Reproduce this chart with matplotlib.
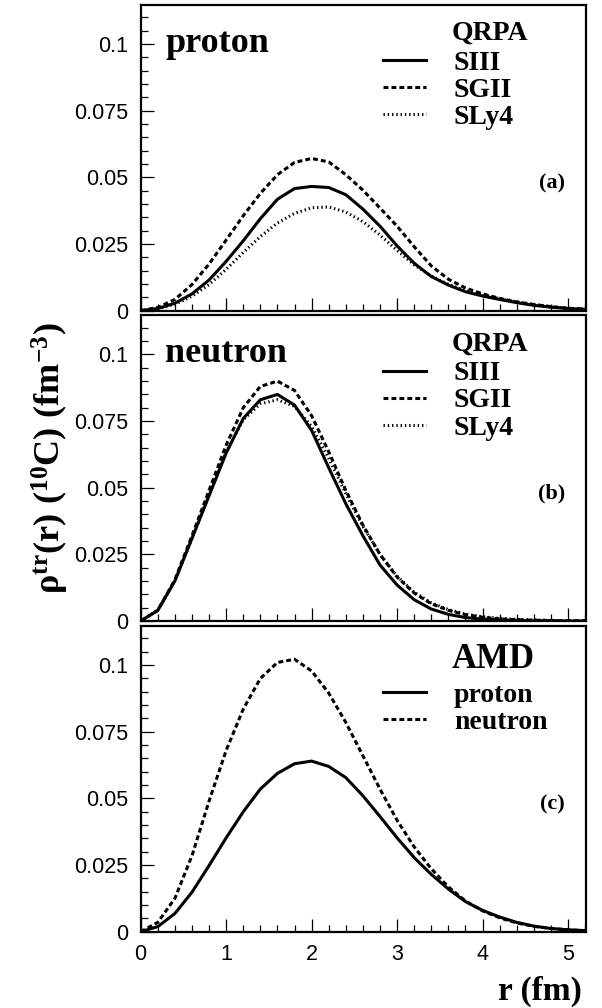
import numpy as np
import matplotlib
matplotlib.use('Agg')
import matplotlib.pyplot as plt
from matplotlib.ticker import MultipleLocator, FixedLocator

plt.rcParams['font.family'] = ['Liberation Sans', 'DejaVu Sans']
plt.rcParams['mathtext.fontset'] = 'custom'
plt.rcParams['mathtext.rm'] = 'Liberation Serif:bold'
plt.rcParams['mathtext.bf'] = 'Liberation Serif:bold'
plt.rcParams['mathtext.it'] = 'Liberation Serif:bold'

# radius grid (fm)
r = [0.0, 0.2, 0.4, 0.6, 0.8, 1.0, 1.2, 1.4, 1.6, 1.8, 2.0, 2.2, 2.4, 2.6,
     2.8, 3.0, 3.2, 3.4, 3.6, 3.8, 4.0, 4.2, 4.4, 4.6, 4.8, 5.0, 5.2]

# (a) proton, QRPA
p_siii = [0, 0.0008, 0.0028, 0.0063, 0.0115, 0.0185, 0.0262, 0.0345, 0.0418, 0.0458,
          0.0466, 0.0462, 0.0435, 0.0381, 0.0317, 0.0243, 0.0178, 0.0128, 0.0096,
          0.0071, 0.0055, 0.0042, 0.0030, 0.0020, 0.0013, 0.0008, 0.0005]
p_sgii = [0, 0.0012, 0.0042, 0.0098, 0.0175, 0.0265, 0.0356, 0.0440, 0.0510, 0.0556,
          0.0571, 0.0558, 0.0510, 0.0452, 0.0385, 0.0317, 0.0240, 0.0168, 0.0118,
          0.0085, 0.0063, 0.0046, 0.0033, 0.0023, 0.0015, 0.0009, 0.0006]
p_sly4 = [0, 0.0007, 0.0024, 0.0054, 0.0098, 0.0155, 0.0218, 0.0278, 0.0329, 0.0365,
          0.0386, 0.0389, 0.0370, 0.0334, 0.0284, 0.0226, 0.0172, 0.0130, 0.0099,
          0.0076, 0.0059, 0.0045, 0.0033, 0.0023, 0.0015, 0.0009, 0.0006]

# (b) neutron, QRPA
n_siii = [0, 0.0040, 0.0150, 0.0310, 0.0470, 0.0630, 0.0760, 0.0830, 0.0850, 0.0810,
          0.0715, 0.0575, 0.0440, 0.0320, 0.0210, 0.0135, 0.0080, 0.0045, 0.0025,
          0.0013, 0.0007, 0.0004, 0.0002, 0.0001, 0.0001, 0.0, 0.0]
n_sgii = [0, 0.0040, 0.0155, 0.0320, 0.0490, 0.0660, 0.0800, 0.0880, 0.0900, 0.0865,
          0.0770, 0.0635, 0.0490, 0.0360, 0.0250, 0.0165, 0.0105, 0.0065, 0.0040,
          0.0024, 0.0014, 0.0008, 0.0005, 0.0003, 0.0002, 0.0001, 0.0001]
n_sly4 = [0, 0.0040, 0.0152, 0.0310, 0.0475, 0.0635, 0.0755, 0.0815, 0.0830, 0.0805,
          0.0730, 0.0610, 0.0478, 0.0355, 0.0250, 0.0168, 0.0108, 0.0068, 0.0043,
          0.0026, 0.0016, 0.0010, 0.0006, 0.0004, 0.0002, 0.0001, 0.0001]

# (c) AMD
amd_p = [0, 0.0019, 0.0068, 0.0148, 0.0248, 0.0352, 0.0450, 0.0535, 0.0594, 0.0630,
         0.0640, 0.0620, 0.0578, 0.0510, 0.0432, 0.0352, 0.0278, 0.0215, 0.0160,
         0.0113, 0.0080, 0.0055, 0.0035, 0.0021, 0.0012, 0.0007, 0.0004]
amd_n = [0, 0.0035, 0.0125, 0.0285, 0.0490, 0.0680, 0.0835, 0.0950, 0.1010, 0.1022,
         0.0978, 0.0895, 0.0785, 0.0660, 0.0535, 0.0418, 0.0318, 0.0236, 0.0168,
         0.0115, 0.0078, 0.0052, 0.0033, 0.0020, 0.0012, 0.0007, 0.0004]

yticks = [0, 0.025, 0.05, 0.075, 0.1]
ytick_labels = ['0', '0.025', '0.05', '0.075', '0.1']
xticks = [0, 1, 2, 3, 4, 5]

solid = dict(color='black', lw=2.2, ls='-')
dashed = dict(color='black', lw=2.2, ls=(0, (1.6, 1.0)))
dotted = dict(color='black', lw=2.2, ls=(0, (0.45, 0.95)))

serif_b = dict(family='Liberation Serif', weight='bold')

fig = plt.figure(figsize=(6.02, 10.08), dpi=100)
left, width, height = 0.2337, 0.7397, 0.3036
bottoms = [0.6918, 0.3839, 0.0757]
axes = [fig.add_axes([left, b, width, height]) for b in bottoms]

for i, ax in enumerate(axes):
    ax.set_xlim(0, 5.21)
    ax.set_ylim(0, 0.1148)
    ax.yaxis.set_major_locator(FixedLocator(yticks))
    ax.set_yticklabels(ytick_labels)
    ax.yaxis.set_minor_locator(MultipleLocator(0.005))
    ax.xaxis.set_major_locator(FixedLocator(xticks))
    ax.xaxis.set_minor_locator(MultipleLocator(0.2))
    ax.tick_params(which='both', direction='in', top=False, right=False,
                   width=0.9, labelsize=15.5)
    ax.tick_params(which='major', length=9.5)
    ax.tick_params(which='minor', length=5)
    ax.tick_params(axis='y', pad=9)
    ax.tick_params(axis='x', pad=9)
    for s in ax.spines.values():
        s.set_linewidth(1.6)
    if i < 2:
        ax.tick_params(axis='x', labelbottom=False)

# (a) proton
ax = axes[0]
ax.plot(r, p_siii, label='SIII', **solid)
ax.plot(r, p_sgii, label='SGII', **dashed)
ax.plot(r, p_sly4, label='SLy4', **dotted)

# (b) neutron
ax = axes[1]
ax.plot(r, n_siii, label='SIII', **solid)
ax.plot(r, n_sgii, label='SGII', **dashed)
ax.plot(r, n_sly4, label='SLy4', **dotted)

# (c) AMD
ax = axes[2]
ax.plot(r, amd_p, label='proton', **solid)
ax.plot(r, amd_n, label='neutron', **dashed)

for ax, name, tag in zip(axes[:2], ['proton', 'neutron'], ['(a)', '(b)']):
    ax.text(0.055, 0.845, name, transform=ax.transAxes, fontsize=26,
            ha='left', va='baseline', **serif_b)
    ax.text(0.699, 0.905, 'QRPA', transform=ax.transAxes, fontsize=20,
            ha='left', va='center', **serif_b)
    ax.text(0.953, 0.416, tag, transform=ax.transAxes, fontsize=16,
            ha='right', va='center', **serif_b)

axes[2].text(0.699, 0.891, 'AMD', transform=axes[2].transAxes, fontsize=25,
             ha='left', va='center', **serif_b)
axes[2].text(0.953, 0.416, '(c)', transform=axes[2].transAxes, fontsize=16,
             ha='right', va='center', **serif_b)

for ax, top in zip(axes, [0.85, 0.85, 0.814]):
    ax.legend(loc='upper left', bbox_to_anchor=(0.544, top), frameon=False,
              prop=dict(family='Liberation Serif', weight='bold', size=20),
              handlelength=1.55, handletextpad=1.0, labelspacing=0.06,
              borderpad=0, borderaxespad=0)

fig.text(50 / 602, 0.545, r'$\mathbf{\rho^{tr}(r)\ (^{10}C)\ (fm^{-3})}$',
         rotation=90, ha='center', va='center', fontsize=26)
fig.text(582 / 602, 1 - 1000 / 1008, 'r (fm)', ha='right', va='baseline',
         fontsize=24, **serif_b)

fig.savefig('out.png', dpi=100)
